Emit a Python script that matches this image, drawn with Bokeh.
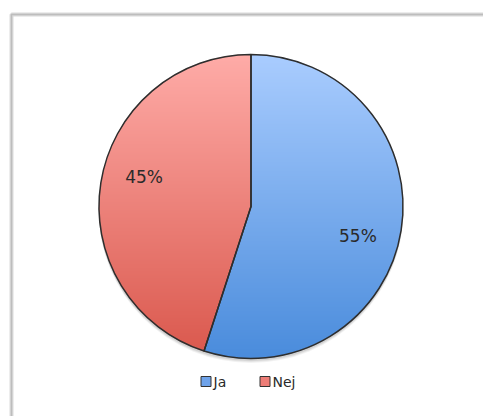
import numpy as np
from bokeh.plotting import figure
from bokeh.models import Range1d, ColumnDataSource
from bokeh.core.properties import value
from bokeh.embed import file_html
from bokeh.resources import INLINE

# ---- data ----
categories = ["Ja", "Nej"]
shares = [55, 45]
labels = ["55%", "45%"]
colors_top = ["#aacdff", "#ffaca8"]
colors_bottom = ["#4a8cdc", "#da584d"]
colors_legend = ["#6fa3ea", "#ee7d77"]

W, H = 483, 416
p = figure(width=W, height=H, x_range=Range1d(0, W), y_range=Range1d(0, H),
           output_backend="svg", toolbar_location=None, min_border=0,
           x_axis_type=None, y_axis_type=None)
p.grid.visible = False
p.outline_line_color = None
p.background_fill_color = "white"
p.border_fill_color = "white"

# chart frame (top and left edges visible)
p.line(x=[11, 11, 600], y=[-20, 402, 402], line_color="#dadada", line_width=4)
p.line(x=[11, 11, 600], y=[-20, 402, 402], line_color="#bdbdbd", line_width=1.5)

cx, cy, R = 250.5, 210.0, 152.0

frac = np.array(shares, dtype=float) / sum(shares)
cum = np.cumsum(frac)
start_cw = cum - frac
end_cw = cum
start_angle = np.pi / 2 - end_cw * 2 * np.pi
end_angle = np.pi / 2 - start_cw * 2 * np.pi

# soft shadow under pie
for off, a in [(4, 0.05), (3, 0.06), (2, 0.08)]:
    p.circle(x=[cx], y=[cy - off], radius=R + 0.5, fill_color="black",
             fill_alpha=a, line_color=None)

src = ColumnDataSource(dict(cat=categories, start=start_angle, end=end_angle,
                            fill=colors_legend))
p.wedge(x=cx, y=cy, radius=R, start_angle="start", end_angle="end",
        fill_color="fill", line_color=None, source=src)

# vertical gradient overlay following slice geometry
n = int(2 * R)
xs = cx - R + (np.arange(n) + 0.5) * (2 * R / n)
ys = cy - R + (np.arange(n) + 0.5) * (2 * R / n)
X, Y = np.meshgrid(xs, ys)
dx, dy = X - cx, Y - cy
r = np.hypot(dx, dy)
theta = (np.arctan2(dx, dy) % (2 * np.pi)) / (2 * np.pi)
idx = np.clip(np.searchsorted(cum, theta, side="right"), 0, len(shares) - 1)

def hex2rgb(h):
    h = h.lstrip("#")
    return [int(h[i:i + 2], 16) for i in (0, 2, 4)]

top = np.array([hex2rgb(c) for c in colors_top], dtype=float)
bot = np.array([hex2rgb(c) for c in colors_bottom], dtype=float)
t = ((Y - (cy - R)) / (2 * R))[..., None]
col = bot[idx] + t * (top[idx] - bot[idx])
alpha = np.clip(R - r + 0.5, 0, 1) * 255
img = np.zeros((n, n), dtype=np.uint32)
view = img.view(dtype=np.uint8).reshape((n, n, 4))
view[..., 0] = col[..., 0].astype(np.uint8)
view[..., 1] = col[..., 1].astype(np.uint8)
view[..., 2] = col[..., 2].astype(np.uint8)
view[..., 3] = alpha.astype(np.uint8)
p.image_rgba(image=[img], x=cx - R, y=cy - R, dw=2 * R, dh=2 * R)

# outlines
p.wedge(x=cx, y=cy, radius=R, start_angle="start", end_angle="end",
        fill_color=None, line_color="#2e2e2e", line_width=1.5, source=src)

# percentage labels
mid = (start_cw + end_cw) / 2 + 0.018
lr = 0.73 * R
lx = cx + lr * np.sin(mid * 2 * np.pi)
ly = cy + lr * np.cos(mid * 2 * np.pi)
p.text(x=lx, y=ly, text=labels, text_align="center", text_baseline="middle",
       text_font=value("DejaVu Sans"), text_font_size="17px", text_color="#2a2a2a")

# legend
leg_y = 35
sq_x = [205.5, 264.5]
tx_x = [213, 272]
p.scatter(x=sq_x, y=[leg_y] * 2, marker="square", size=10, fill_color=colors_legend,
          line_color="#333333", line_width=1)
p.text(x=tx_x, y=[leg_y] * 2, text=categories, text_align="left", text_baseline="middle",
       text_font=value("DejaVu Sans"), text_font_size="14px", text_color="#2a2a2a")

open("out.html", "w").write(file_html(p, INLINE))
